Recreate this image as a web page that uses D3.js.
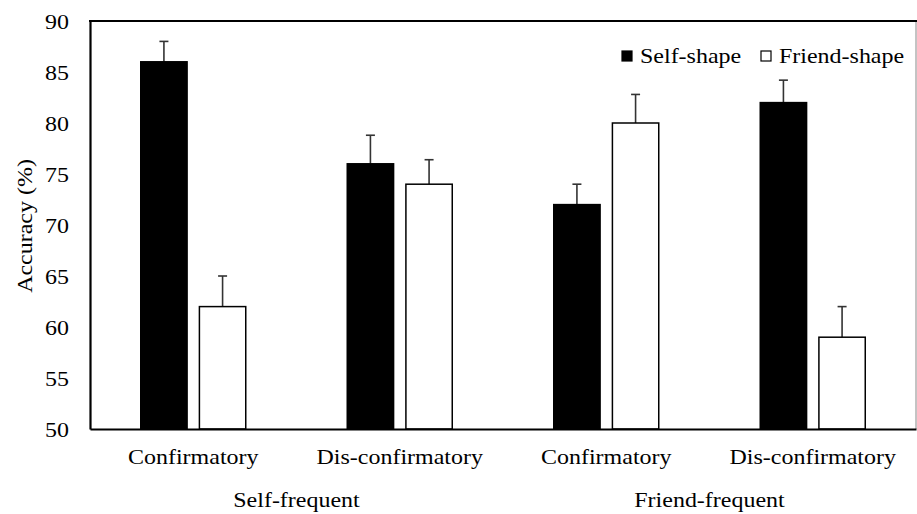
<!DOCTYPE html>
<html>
<head>
<meta charset="utf-8">
<script src="https://cdn.jsdelivr.net/npm/d3@7"></script>
<style>
  body { margin: 0; background: #fff; }
</style>
</head>
<body>
<svg id="chart" width="917" height="514"></svg>
<script>
const categories = ['Confirmatory', 'Dis-confirmatory', 'Confirmatory', 'Dis-confirmatory'];
const groups = ['Self-frequent', 'Friend-frequent'];
const series = ['Self-shape', 'Friend-shape'];
const selfValues = [86, 76, 72, 82];
const selfErrors = [2, 2.8, 2, 2.2];
const friendValues = [62, 74, 80, 59];
const friendErrors = [3, 2.4, 2.8, 3];
const yTicks = [50, 55, 60, 65, 70, 75, 80, 85, 90];

const FONT = '"Liberation Serif", "Times New Roman", serif';
const FS = 22;      // font size
const SX = 1.09;    // glyphs in the reference are a bit wider than Liberation Serif

const svg = d3.select('#chart');
const plotLeft = 90, plotRight = 916, plotTop = 21, plotBottom = 429;

const y = d3.scaleLinear().domain([50, 90]).range([plotBottom, plotTop]);
const x0 = d3.scaleBand().domain(d3.range(categories.length)).range([plotLeft, plotRight]);
const cw = x0.bandwidth();
const x1 = d3.scaleBand().domain(series).range([(cw - 105) / 2, (cw + 105) / 2]).paddingInner(0.21);

const rows = [];
categories.forEach((c, i) => {
  rows.push({ i, s: 'Self-shape', v: selfValues[i], e: selfErrors[i] });
  rows.push({ i, s: 'Friend-shape', v: friendValues[i], e: friendErrors[i] });
});

// puts a horizontally widened text at (x, y)
function label(x, yy, txt, anchor) {
  return svg.append('text')
    .attr('transform', `translate(${x},${yy}) scale(${SX},1)`)
    .attr('text-anchor', anchor || 'middle')
    .style('font-family', FONT)
    .style('font-size', FS + 'px')
    .attr('fill', '#000')
    .text(txt);
}

// error bars (behind bars)
const err = svg.append('g').attr('stroke', '#333').attr('stroke-width', 1.6);
rows.forEach(d => {
  const cx = x0(d.i) + x1(d.s) + x1.bandwidth() / 2;
  err.append('line').attr('x1', cx).attr('x2', cx).attr('y1', y(d.v)).attr('y2', y(d.v + d.e));
  err.append('line').attr('x1', cx - 4.5).attr('x2', cx + 4.5).attr('y1', y(d.v + d.e)).attr('y2', y(d.v + d.e));
});

svg.append('g').selectAll('rect').data(rows).join('rect')
  .attr('x', d => x0(d.i) + x1(d.s))
  .attr('y', d => y(d.v))
  .attr('width', x1.bandwidth())
  .attr('height', d => y(50) - y(d.v))
  .attr('fill', d => d.s === 'Self-shape' ? '#000' : '#fff')
  .attr('stroke', '#000')
  .attr('stroke-width', 1.5);

// frame
svg.append('line').attr('x1', plotRight).attr('x2', plotRight).attr('y1', plotTop).attr('y2', plotBottom)
  .attr('stroke', '#888').attr('stroke-width', 1);
svg.append('line').attr('x1', plotLeft - 1).attr('x2', plotRight + 1).attr('y1', plotTop).attr('y2', plotTop)
  .attr('stroke', '#000').attr('stroke-width', 2);

const yAxis = svg.append('g').attr('transform', `translate(${plotLeft},0)`)
  .call(d3.axisLeft(y).tickValues(yTicks).tickSize(0).tickPadding(0));
yAxis.select('.domain').attr('stroke', '#000').attr('stroke-width', 2.2);
yAxis.selectAll('.tick text')
  .style('font-family', FONT).style('font-size', FS + 'px').attr('fill', '#000')
  .attr('x', -21 / SX).attr('dy', '0.35em')
  .attr('transform', `scale(${SX},1)`);

const xAxis = svg.append('g').attr('transform', `translate(0,${plotBottom})`)
  .call(d3.axisBottom(x0).tickSize(0).tickFormat(i => categories[i]).tickPadding(0));
xAxis.select('.domain').attr('stroke', '#000').attr('stroke-width', 2.2);
xAxis.selectAll('.tick text')
  .style('font-family', FONT).style('font-size', FS + 'px').attr('fill', '#000')
  .attr('y', 35).attr('dy', 0)
  .attr('transform', `scale(${SX},1)`);

groups.forEach((g, k) => label(x0(k * 2) + cw, 507, g));

svg.append('text')
  .attr('transform', `translate(32,226) rotate(-90) scale(${SX},1)`)
  .attr('text-anchor', 'middle')
  .style('font-family', FONT)
  .style('font-size', FS + 'px')
  .text('Accuracy (%)');

// legend
const legendX = [622, 761];
series.forEach((s, k) => {
  svg.append('rect').attr('x', legendX[k]).attr('y', 51).attr('width', 10).attr('height', 10)
    .attr('fill', k === 0 ? '#000' : '#fff').attr('stroke', '#000').attr('stroke-width', 1.2);
  label(legendX[k] + 18, 63, s, 'start');
});
</script>
</body>
</html>
